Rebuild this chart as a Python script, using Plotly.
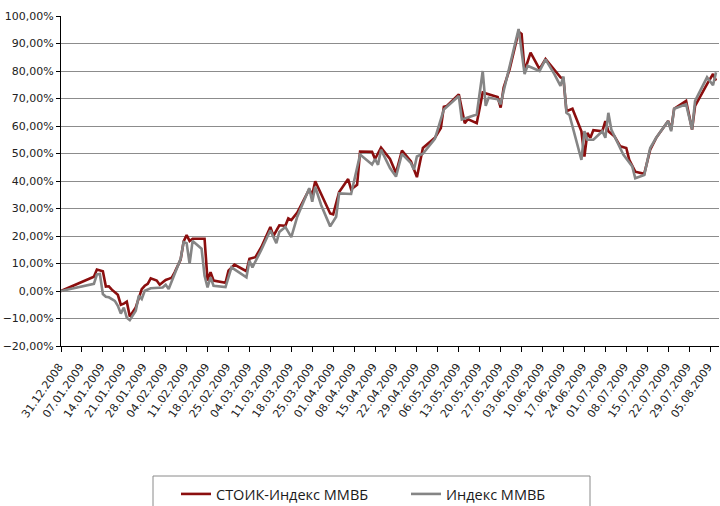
import plotly.graph_objects as go

# ---- data ----
stoik_dates = [
    "2008-12-31", "2009-01-11", "2009-01-12", "2009-01-13", "2009-01-14", "2009-01-15",
    "2009-01-16", "2009-01-17", "2009-01-19", "2009-01-20", "2009-01-21", "2009-01-22",
    "2009-01-23", "2009-01-25", "2009-01-26", "2009-01-27", "2009-01-28", "2009-01-29",
    "2009-01-30", "2009-02-01", "2009-02-02", "2009-02-04", "2009-02-05", "2009-02-06",
    "2009-02-07", "2009-02-09", "2009-02-10", "2009-02-11", "2009-02-12", "2009-02-13",
    "2009-02-17", "2009-02-18", "2009-02-19", "2009-02-20", "2009-02-24", "2009-02-25",
    "2009-02-27", "2009-03-03", "2009-03-04", "2009-03-06", "2009-03-08", "2009-03-11",
    "2009-03-12", "2009-03-14", "2009-03-16", "2009-03-17", "2009-03-18", "2009-03-20",
    "2009-03-24", "2009-03-25", "2009-03-26", "2009-03-31", "2009-04-01", "2009-04-03",
    "2009-04-06", "2009-04-07", "2009-04-09", "2009-04-10", "2009-04-14", "2009-04-15",
    "2009-04-17", "2009-04-20", "2009-04-22", "2009-04-24", "2009-04-27", "2009-04-29",
    "2009-05-01", "2009-05-03", "2009-05-05", "2009-05-07", "2009-05-08", "2009-05-09",
    "2009-05-13", "2009-05-15", "2009-05-16", "2009-05-19", "2009-05-21", "2009-05-26",
    "2009-05-27", "2009-05-28", "2009-05-30", "2009-06-02", "2009-06-03", "2009-06-04",
    "2009-06-06", "2009-06-09", "2009-06-11", "2009-06-16", "2009-06-17", "2009-06-18",
    "2009-06-20", "2009-06-23", "2009-06-24", "2009-06-25", "2009-06-26", "2009-06-27",
    "2009-06-30", "2009-07-01", "2009-07-02", "2009-07-04", "2009-07-06", "2009-07-08",
    "2009-07-09", "2009-07-11", "2009-07-14", "2009-07-16", "2009-07-18", "2009-07-22",
    "2009-07-23", "2009-07-24", "2009-07-28", "2009-07-30", "2009-07-31", "2009-08-04",
    "2009-08-06", "2009-08-07",
]
stoik_values = [
    0.0, 5.2, 7.8, 7.4, 7.2, 1.6,
    1.7, 0.5, -1.4, -5.0, -4.6, -3.9,
    -9.3, -6.0, -2.3, 0.7, 1.9, 2.6,
    4.6, 3.8, 2.3, 4.0, 4.4, 4.8,
    6.8, 11.4, 18.0, 20.3, 18.2, 19.0,
    19.0, 3.8, 6.8, 3.8, 3.0, 7.4,
    9.6, 7.2, 11.7, 12.3, 16.0, 23.3,
    20.0, 23.9, 23.7, 26.4, 25.8, 28.5,
    37.0, 35.0, 39.9, 28.2, 27.9, 36.0,
    40.7, 37.0, 38.6, 50.7, 50.6, 48.0,
    52.1, 48.0, 42.9, 51.1, 47.1, 41.4,
    52.0, 53.8, 55.7, 59.3, 67.0, 67.3,
    71.5, 61.0, 62.5, 61.0, 72.2, 70.5,
    66.7, 74.0, 80.7, 94.3, 93.5, 80.0,
    86.7, 80.7, 84.4, 77.7, 77.0, 65.4,
    66.3, 58.1, 48.9, 57.5, 55.7, 58.5,
    58.1, 61.8, 58.1, 56.3, 52.6, 52.0,
    47.7, 43.4, 42.6, 51.4, 55.7, 61.8,
    58.7, 66.3, 69.1, 58.7, 67.3, 75.2,
    78.9, 76.5,
]

micex_dates = [
    "2008-12-31", "2009-01-11", "2009-01-12", "2009-01-13", "2009-01-14", "2009-01-15",
    "2009-01-16", "2009-01-18", "2009-01-19", "2009-01-20", "2009-01-21", "2009-01-22",
    "2009-01-23", "2009-01-25", "2009-01-26", "2009-01-27", "2009-01-28", "2009-01-29",
    "2009-01-30", "2009-02-03", "2009-02-04", "2009-02-05", "2009-02-07", "2009-02-09",
    "2009-02-10", "2009-02-11", "2009-02-12", "2009-02-13", "2009-02-16", "2009-02-17",
    "2009-02-18", "2009-02-19", "2009-02-20", "2009-02-24", "2009-02-26", "2009-03-03",
    "2009-03-04", "2009-03-05", "2009-03-08", "2009-03-11", "2009-03-13", "2009-03-14",
    "2009-03-16", "2009-03-18", "2009-03-20", "2009-03-24", "2009-03-25", "2009-03-26",
    "2009-03-28", "2009-03-31", "2009-04-02", "2009-04-03", "2009-04-07", "2009-04-10",
    "2009-04-14", "2009-04-15", "2009-04-16", "2009-04-17", "2009-04-20", "2009-04-22",
    "2009-04-24", "2009-04-27", "2009-04-28", "2009-04-29", "2009-05-01", "2009-05-05",
    "2009-05-08", "2009-05-13", "2009-05-14", "2009-05-19", "2009-05-21", "2009-05-22",
    "2009-05-23", "2009-05-26", "2009-05-27", "2009-05-28", "2009-06-02", "2009-06-04",
    "2009-06-05", "2009-06-09", "2009-06-11", "2009-06-14", "2009-06-16", "2009-06-17",
    "2009-06-18", "2009-06-19", "2009-06-23", "2009-06-24", "2009-06-25", "2009-06-27",
    "2009-06-30", "2009-07-01", "2009-07-02", "2009-07-03", "2009-07-07", "2009-07-10",
    "2009-07-11", "2009-07-14", "2009-07-16", "2009-07-18", "2009-07-22", "2009-07-23",
    "2009-07-24", "2009-07-28", "2009-07-30", "2009-07-31", "2009-08-04", "2009-08-06",
    "2009-08-07",
]
micex_values = [
    0.0, 2.6, 6.0, 6.2, -1.1, -2.1,
    -2.3, -3.6, -5.4, -8.2, -6.0, -9.7,
    -10.6, -7.2, -1.7, -2.9, 0.1, 0.7,
    1.0, 1.3, 2.3, 0.7, 6.2, 11.7,
    17.8, 17.4, 9.9, 18.2, 15.4, 5.5,
    1.3, 5.0, 1.9, 1.4, 8.6, 5.0,
    11.0, 8.6, 15.0, 22.1, 17.4, 21.5,
    23.3, 19.6, 27.0, 37.4, 32.5, 37.9,
    31.2, 23.5, 27.0, 35.5, 35.3, 49.6,
    46.0, 48.0, 45.9, 51.4, 44.7, 41.6,
    49.9, 46.5, 44.1, 48.9, 49.9, 55.3,
    66.0, 70.9, 62.4, 64.2, 80.0, 67.3,
    70.3, 69.7, 67.9, 72.7, 95.3, 78.9,
    81.9, 80.0, 84.2, 78.8, 74.6, 78.0,
    64.8, 64.0, 47.7, 58.1, 55.0, 55.0,
    58.1, 55.7, 64.8, 58.7, 49.6, 45.3,
    41.0, 42.2, 52.0, 55.7, 61.8, 58.1,
    66.3, 67.9, 58.7, 69.1, 77.7, 74.8,
    79.5,
]

series_names = ["СТОИК-Индекс ММВБ", "Индекс ММВБ"]
series_colors = ["#8B0E0E", "#858585"]

x_start = "2008-12-31"
x_end = "2009-08-08"
y_min, y_max, y_step = -20, 100, 10

# ---- figure ----
fig = go.Figure()
fig.add_trace(go.Scatter(x=stoik_dates, y=stoik_values, mode="lines", name=series_names[0],
                         line=dict(color=series_colors[0], width=2.6)))
fig.add_trace(go.Scatter(x=micex_dates, y=micex_values, mode="lines", name=series_names[1],
                         line=dict(color=series_colors[1], width=2.6)))

tick_font = dict(family="DejaVu Sans", size=11, color="#222222")

# legend frame (partly cut off by the bottom edge, as in the reference)
fig.add_shape(type="rect", xref="paper", yref="paper",
              x0=(153 - 61) / 658, x1=(590 - 61) / 658,
              y0=(346 - 520) / 330, y1=(346 - 476) / 330,
              line=dict(color="#8a8a8a", width=1), fillcolor="white", layer="below")

fig.update_layout(
    width=720, height=506,
    margin=dict(l=61, r=1, t=16, b=160, autoexpand=False),
    paper_bgcolor="white", plot_bgcolor="white",
    separators=", ",
    showlegend=True,
    legend=dict(
        orientation="h",
        x=(176 - 61) / 658, xanchor="left",
        y=(346 - 478) / 330, yanchor="top",
        borderwidth=0,
        font=dict(family="Open Sans", size=14.5, color="#1a1a1a"),
        itemwidth=30,
        entrywidth=185,
        bgcolor="rgba(0,0,0,0)",
    ),
    xaxis=dict(
        type="date",
        range=[x_start, x_end],
        tick0=x_start, dtick=7 * 86400000,
        tickformat="%d.%m.%Y",
        tickangle=-55,
        ticks="outside", ticklen=5, tickcolor="black",
        ticklabelstandoff=4, ticklabelshift=-2,
        showline=True, linecolor="black", linewidth=1,
        showgrid=False, zeroline=False,
        tickfont=tick_font,
        automargin=False,
    ),
    yaxis=dict(
        range=[y_min, y_max],
        tick0=y_min, dtick=y_step,
        tickformat=".2f", ticksuffix="%",
        ticks="outside", ticklen=4, tickcolor="black",
        showline=True, linecolor="black", linewidth=1,
        showgrid=True, gridcolor="#8c8c8c", gridwidth=1,
        zeroline=False,
        tickfont=tick_font,
        automargin=False,
    ),
)

# remove the default page margin so the figure sits at the window's top-left corner
fig.write_html("out.html",
               config={"displayModeBar": False},
               post_script="document.body.style.margin='0px';document.body.style.overflow='hidden';")
